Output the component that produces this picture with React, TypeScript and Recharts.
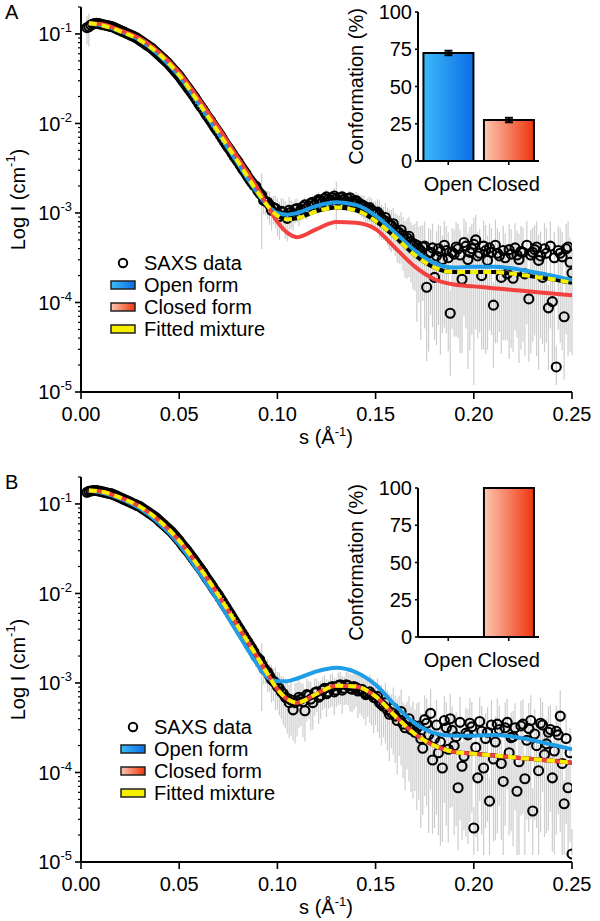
import React from 'react';
import {
  ComposedChart, Scatter, Line, XAxis, YAxis, ErrorBar,
  BarChart, Bar, Cell,
} from 'recharts';

const FONT = '"Liberation Sans", Arial, Helvetica, sans-serif';
const OPEN_BLUE = '#1f9de6';
const CLOSED_RED = '#f2413f';
const FIT_YELLOW = '#f6ef00';
const ERR_GRAY = '#cdcdcd';

// scattering vector of the measured points (1/A), even channels
const sValues = [
  0.004, 0.006, 0.008, 0.010, 0.012, 0.014, 0.016, 0.018, 0.020, 0.022,
  0.024, 0.026, 0.028, 0.030, 0.032, 0.034, 0.036, 0.038, 0.040, 0.042,
  0.044, 0.046, 0.048, 0.050, 0.052, 0.054, 0.056, 0.058, 0.060, 0.062,
  0.064, 0.066, 0.068, 0.070, 0.072, 0.074, 0.076, 0.078, 0.080, 0.082,
  0.084, 0.086, 0.088, 0.090, 0.092, 0.094, 0.096, 0.098, 0.100, 0.102,
  0.104, 0.106, 0.108, 0.110, 0.112, 0.114, 0.116, 0.118, 0.120, 0.122,
  0.124, 0.126, 0.128, 0.130, 0.132, 0.134, 0.136, 0.138, 0.140, 0.142,
  0.144, 0.146, 0.148, 0.150, 0.152, 0.154, 0.156, 0.158, 0.160, 0.162,
  0.164, 0.166, 0.168, 0.170, 0.172, 0.174, 0.176, 0.178, 0.180, 0.182,
  0.184, 0.186, 0.188, 0.190, 0.192, 0.194, 0.196, 0.198, 0.200, 0.202,
  0.204, 0.206, 0.208, 0.210, 0.212, 0.214, 0.216, 0.218, 0.220, 0.222,
  0.224, 0.226, 0.228, 0.230, 0.232, 0.234, 0.236, 0.238, 0.240, 0.242,
  0.244, 0.246, 0.248, 0.250,
];
// odd channels
const sOdd = [
  0.003, 0.005, 0.007, 0.009, 0.011, 0.013, 0.015, 0.017, 0.019, 0.021,
  0.023, 0.025, 0.027, 0.029, 0.031, 0.033, 0.035, 0.037, 0.039, 0.041,
  0.043, 0.045, 0.047, 0.049, 0.051, 0.053, 0.055, 0.057, 0.059, 0.061,
  0.063, 0.065, 0.067, 0.069, 0.071, 0.073, 0.075, 0.077, 0.079, 0.081,
  0.083, 0.085, 0.087, 0.089, 0.091, 0.093, 0.095, 0.097, 0.099, 0.101,
  0.103, 0.105, 0.107, 0.109, 0.111, 0.113, 0.115, 0.117, 0.119, 0.121,
  0.123, 0.125, 0.127, 0.129, 0.131, 0.133, 0.135, 0.137, 0.139, 0.141,
  0.143, 0.145, 0.147, 0.149, 0.151, 0.153, 0.155, 0.157, 0.159, 0.161,
  0.163, 0.165, 0.167, 0.169, 0.171, 0.173, 0.175, 0.177, 0.179, 0.181,
  0.183, 0.185, 0.187, 0.189, 0.191, 0.193, 0.195, 0.197, 0.199, 0.201,
  0.203, 0.205, 0.207, 0.209, 0.211, 0.213, 0.215, 0.217, 0.219, 0.221,
  0.223, 0.225, 0.227, 0.229, 0.231, 0.233, 0.235, 0.237, 0.239, 0.241,
  0.243, 0.245, 0.247, 0.249,
];

// panel A, SAXS data, log10 of I (cm-1)
const logIA = [
  -0.92, -0.89, -0.88, -0.89, -0.90, -0.91, -0.92, -0.94, -0.96, -0.98,
  -1.00, -1.02, -1.04, -1.07, -1.10, -1.13, -1.16, -1.20, -1.24, -1.28,
  -1.32, -1.37, -1.42, -1.47, -1.53, -1.59, -1.65, -1.71, -1.78, -1.84,
  -1.91, -1.97, -2.04, -2.10, -2.17, -2.24, -2.30, -2.37, -2.43, -2.50,
  -2.56, -2.63, -2.69, -2.75, -2.80, -2.87, -2.91, -2.94, -3.00, -2.98,
  -3.03, -2.97, -3.01, -2.95, -2.96, -2.91, -2.92, -2.88, -2.87, -2.86,
  -2.84, -2.85, -2.83, -2.84, -2.83, -2.85, -2.84, -2.87, -2.86, -2.90,
  -2.92, -2.95, -2.97, -3.00, -3.02, -3.08, -3.10, -3.14, -3.18, -3.22,
  -3.25, -3.28, -3.32, -3.35, -3.40, -3.38, -3.83, -3.44, -3.72, -3.40,
  -3.52, -3.42, -4.12, -3.46, -3.40, -3.74, -3.37, -3.44, -3.35, -3.48,
  -3.70, -3.42, -3.39, -4.03, -3.45, -3.72, -3.50, -3.41, -3.73, -3.47,
  -3.43, -3.68, -3.96, -3.44, -3.38, -3.48, -3.40, -4.06, -3.99, -4.72,
  -3.45, -4.16, -3.38, -3.67,
];
const logIAOdd = [
  -0.93, -0.90, -0.885, -0.885, -0.895, -0.905, -0.915, -0.93, -0.95, -0.97,
  -0.99, -1.01, -1.03, -1.055, -1.085, -1.115, -1.145, -1.18, -1.22, -1.26,
  -1.30, -1.345, -1.395, -1.445, -1.50, -1.56, -1.62, -1.68, -1.745, -1.81,
  -1.875, -1.94, -2.005, -2.07, -2.135, -2.205, -2.27, -2.335, -2.40, -2.465,
  -2.53, -2.60, -2.66, -2.70, -2.78, -2.86, -2.88, -2.97, -2.95, -3.04,
  -2.99, -3.06, -2.99, -2.96, -3.00, -2.93, -2.95, -2.89, -2.91, -2.85,
  -2.88, -2.82, -2.86, -2.81, -2.86, -2.82, -2.87, -2.83, -2.89, -2.88,
  -2.91, -2.96, -2.94, -3.01, -2.99, -3.06, -3.05, -3.13, -3.12, -3.21,
  -3.19, -3.30, -3.26, -3.36, -3.36, -3.42, -3.37, -3.45, -3.39, -3.48,
  -3.43, -3.36, -3.50, -3.44, -3.38, -3.47, -3.33, -3.52, -3.40, -3.30,
  -3.45, -3.37, -3.53, -3.44, -3.36, -3.48, -3.42, -3.68, -3.46, -3.39,
  -3.52, -3.44, -3.36, -3.47, -3.41, -3.53, -3.72, -3.45, -3.37, -3.50,
  -3.42, -3.49, -3.40, -3.55,
];
// panel A, relative error (sigma / I)
const relErrA = [
  0.4, 0, 0, 0, 0, 0, 0, 0, 0, 0,
  0, 0, 0, 0, 0, 0, 0, 0, 0, 0,
  0, 0, 0, 0, 0, 0, 0, 0, 0, 0,
  0, 0, 0, 0, 0, 0, 0, 0, 0, 0.08,
  0.1, 0.12, 0.15, 0.2, 0.75, 0.3, 0.4, 0.35, 0.45, 0.4,
  0.45, 0.4, 0.35, 0.3, 0.25, 0.2, 0.25, 0.18, 0.2, 0.18,
  0.2, 0.18, 0.2, 0.55, 0.2, 0.18, 0.2, 0.22, 0.25, 0.25,
  0.3, 0.3, 0.35, 0.35, 0.45, 0.4, 0.45, 0.5, 0.5, 0.55,
  0.6, 0.65, 0.65, 0.7, 0.75, 0.75, 0.85, 0.8, 0.8, 0.86,
  0.85, 0.88, 0.8, 0.88, 0.9, 0.85, 0.88, 0.92, 0.99, 0.88,
  0.85, 0.93, 0.88, 0.8, 0.9, 0.86, 0.88, 0.94, 0.85, 0.88,
  0.92, 0.88, 0.8, 0.9, 0.94, 0.88, 0.93, 0.8, 0.82, 0.7,
  0.9, 0.8, 0.94, 0.88,
];
const relErrAOdd = [
  0.35, 0, 0, 0, 0, 0, 0, 0, 0, 0,
  0, 0, 0, 0, 0, 0, 0, 0, 0, 0,
  0, 0, 0, 0, 0, 0, 0, 0, 0, 0,
  0, 0, 0, 0, 0, 0, 0, 0, 0, 0,
  0.1, 0.12, 0.15, 0.2, 0.25, 0.3, 0.35, 0.4, 0.4, 0.45,
  0.4, 0.45, 0.35, 0.3, 0.3, 0.2, 0.25, 0.18, 0.2, 0.2,
  0.18, 0.2, 0.2, 0.22, 0.2, 0.18, 0.2, 0.2, 0.22, 0.25,
  0.28, 0.3, 0.32, 0.35, 0.4, 0.42, 0.45, 0.48, 0.5, 0.55,
  0.58, 0.62, 0.65, 0.68, 0.86, 0.9, 0.88, 0.92, 0.87, 0.9,
  0.93, 0.88, 0.91, 0.86, 0.9, 0.92, 0.85, 0.94, 0.89, 0.9,
  0.87, 0.93, 0.9, 0.88, 0.92, 0.86, 0.9, 0.82, 0.91, 0.88,
  0.93, 0.9, 0.87, 0.92, 0.89, 0.94, 0.82, 0.9, 0.88, 0.93,
  0.87, 0.91, 0.89, 0.9,
];

// panel B, SAXS data, log10 of I (cm-1)
const logIB = [
  -0.86, -0.85, -0.85, -0.86, -0.87, -0.88, -0.89, -0.91, -0.93, -0.95,
  -0.97, -0.99, -1.01, -1.03, -1.06, -1.09, -1.12, -1.15, -1.19, -1.23,
  -1.27, -1.31, -1.36, -1.41, -1.47, -1.52, -1.58, -1.64, -1.70, -1.76,
  -1.83, -1.89, -1.96, -2.02, -2.09, -2.16, -2.23, -2.30, -2.37, -2.44,
  -2.51, -2.58, -2.65, -2.72, -2.79, -2.86, -2.92, -2.98, -3.04, -3.10,
  -3.16, -3.22, -3.30, -3.20, -3.18, -3.31, -3.14, -3.22, -3.10, -3.14,
  -3.06, -3.10, -3.04, -3.08, -3.02, -3.06, -3.03, -3.07, -3.05, -3.08,
  -3.10, -3.12, -3.13, -3.17, -3.22, -3.26, -3.30, -3.33, -3.37, -3.36,
  -3.46, -3.44, -3.52, -3.55, -3.48, -3.73, -3.45, -3.34, -3.62, -3.78,
  -3.95, -3.50, -3.40, -3.70, -4.17, -3.93, -3.56, -3.45, -4.62, -4.06,
  -3.54, -3.62, -4.32, -3.85, -3.46, -3.90, -3.50, -3.78, -3.60, -4.21,
  -3.48, -4.07, -3.51, -4.43, -3.70, -3.45, -3.80, -3.55, -4.06, -3.54,
  -3.37, -4.35, -4.17, -4.91,
];
const logIBOdd = [
  -0.87, -0.855, -0.85, -0.855, -0.865, -0.875, -0.885, -0.90, -0.92, -0.94,
  -0.96, -0.98, -1.00, -1.02, -1.045, -1.075, -1.105, -1.135, -1.17, -1.21,
  -1.25, -1.29, -1.335, -1.385, -1.44, -1.495, -1.55, -1.61, -1.67, -1.73,
  -1.795, -1.86, -1.925, -1.99, -2.055, -2.125, -2.195, -2.265, -2.335, -2.405,
  -2.475, -2.545, -2.615, -2.70, -2.74, -2.83, -2.88, -2.96, -3.00, -3.06,
  -3.12, -3.17, -3.19, -3.22, -3.16, -3.21, -3.13, -3.18, -3.11, -3.16,
  -3.08, -3.12, -3.05, -3.10, -3.03, -3.08, -3.02, -3.06, -3.04, -3.09,
  -3.07, -3.13, -3.10, -3.16, -3.15, -3.24, -3.22, -3.35, -3.28, -3.42,
  -3.32, -3.50, -3.40, -3.47, -3.50, -3.62, -3.41, -3.58, -3.86, -3.47,
  -3.66, -3.42, -3.74, -3.53, -3.60, -3.44, -3.82, -3.58, -3.49, -3.72,
  -3.43, -3.95, -3.55, -3.47, -3.66, -3.52, -4.10, -3.44, -3.61, -3.50,
  -3.88, -3.46, -3.64, -3.42, -3.57, -3.98, -3.47, -3.68, -3.52, -3.76,
  -3.58, -3.90, -3.62, -3.78,
];
const relErrB = [
  0.15, 0, 0, 0, 0, 0, 0, 0, 0, 0,
  0, 0, 0, 0, 0, 0, 0, 0, 0, 0,
  0, 0, 0, 0, 0, 0, 0, 0, 0, 0,
  0, 0, 0, 0, 0, 0, 0, 0, 0, 0.1,
  0.12, 0.15, 0.2, 0.25, 0.7, 0.3, 0.35, 0.4, 0.45, 0.5,
  0.55, 0.6, 0.55, 0.6, 0.5, 0.55, 0.45, 0.5, 0.4, 0.45,
  0.4, 0.35, 0.4, 0.35, 0.4, 0.35, 0.4, 0.45, 0.4, 0.45,
  0.5, 0.45, 0.55, 0.5, 0.6, 0.55, 0.65, 0.6, 0.7, 0.65,
  0.75, 0.7, 0.8, 0.78, 0.85, 0.82, 0.88, 0.86, 0.9, 0.88,
  0.85, 0.92, 0.9, 0.9, 0.8, 0.85, 0.93, 0.92, 0.7, 0.85,
  0.93, 0.9, 0.8, 0.88, 0.94, 0.86, 0.92, 0.88, 0.94, 0.85,
  0.9, 0.86, 0.93, 0.8, 0.88, 0.94, 0.88, 0.92, 0.85, 0.93,
  0.95, 0.85, 0.88, 0.9,
];
const relErrBOdd = [
  0.15, 0, 0, 0, 0, 0, 0, 0, 0, 0,
  0, 0, 0, 0, 0, 0, 0, 0, 0, 0,
  0, 0, 0, 0, 0, 0, 0, 0, 0, 0,
  0, 0, 0, 0, 0, 0, 0, 0, 0, 0,
  0.12, 0.15, 0.2, 0.25, 0.3, 0.35, 0.4, 0.45, 0.5, 0.5,
  0.55, 0.6, 0.6, 0.65, 0.55, 0.6, 0.5, 0.55, 0.45, 0.5,
  0.4, 0.45, 0.4, 0.45, 0.4, 0.45, 0.4, 0.45, 0.45, 0.5,
  0.5, 0.55, 0.55, 0.6, 0.6, 0.65, 0.65, 0.7, 0.7, 0.75,
  0.75, 0.8, 0.8, 0.85, 0.88, 0.9, 0.86, 0.92, 0.85, 0.9,
  0.93, 0.88, 0.91, 0.86, 0.9, 0.92, 0.85, 0.94, 0.89, 0.9,
  0.87, 0.93, 0.9, 0.88, 0.92, 0.86, 0.9, 0.82, 0.91, 0.88,
  0.93, 0.9, 0.87, 0.92, 0.89, 0.94, 0.82, 0.9, 0.88, 0.93,
  0.87, 0.91, 0.89, 0.9,
];

// model curves (log10 I) on a coarser s grid
const curveS = [
  0.004, 0.01, 0.02, 0.03, 0.04, 0.05, 0.06, 0.07, 0.08, 0.09,
  0.095, 0.10, 0.105, 0.11, 0.12, 0.13, 0.14, 0.15, 0.16, 0.17,
  0.18, 0.19, 0.20, 0.21, 0.22, 0.23, 0.24, 0.25,
];
const openA = [
  -0.88, -0.90, -0.97, -1.07, -1.24, -1.47, -1.78, -2.11, -2.45, -2.78,
  -2.92, -3.00, -3.02, -3.00, -2.92, -2.88, -2.91, -3.03, -3.22, -3.42,
  -3.56, -3.61, -3.60, -3.60, -3.62, -3.66, -3.70, -3.75,
];
const closedA = [
  -0.88, -0.89, -0.96, -1.05, -1.21, -1.43, -1.73, -2.05, -2.39, -2.73,
  -2.92, -3.10, -3.22, -3.27, -3.18, -3.10, -3.11, -3.18, -3.39, -3.60,
  -3.74, -3.80, -3.82, -3.84, -3.86, -3.88, -3.90, -3.92,
];
const fitA = [
  -0.88, -0.90, -0.97, -1.07, -1.23, -1.46, -1.77, -2.10, -2.43, -2.77,
  -2.92, -3.03, -3.07, -3.06, -2.98, -2.94, -2.97, -3.09, -3.27, -3.47,
  -3.61, -3.66, -3.66, -3.66, -3.68, -3.71, -3.74, -3.78,
];
const openB = [
  -0.85, -0.87, -0.94, -1.05, -1.22, -1.45, -1.76, -2.09, -2.45, -2.80,
  -2.94, -2.98, -2.98, -2.95, -2.87, -2.83, -2.88, -3.02, -3.25, -3.45,
  -3.56, -3.59, -3.59, -3.58, -3.60, -3.64, -3.69, -3.74,
];
const closedB = [
  -0.85, -0.86, -0.93, -1.03, -1.19, -1.41, -1.70, -2.02, -2.37, -2.72,
  -2.90, -3.07, -3.18, -3.22, -3.12, -3.03, -3.04, -3.15, -3.37, -3.57,
  -3.70, -3.77, -3.79, -3.81, -3.83, -3.85, -3.87, -3.89,
];
const fitB = [
  -0.85, -0.86, -0.93, -1.03, -1.19, -1.41, -1.70, -2.02, -2.37, -2.72,
  -2.90, -3.07, -3.18, -3.22, -3.12, -3.03, -3.04, -3.15, -3.37, -3.57,
  -3.70, -3.77, -3.79, -3.81, -3.83, -3.85, -3.87, -3.89,
];

// inset bars: conformation fractions (%)
const conformations = ['Open', 'Closed'];
const fractionA = [72.5, 27.5];
const fractionErrA = [1.5, 1.5];
const fractionB = [0, 100];
const fractionErrB = [0, 0];

const sTicks = [0, 0.05, 0.1, 0.15, 0.2, 0.25];
const majorTicks = [1e-5, 1e-4, 1e-3, 1e-2, 1e-1];
const minorSteps = [2, 3, 4, 5, 6, 7, 8, 9];
const logTicks = majorTicks
  .flatMap((d) => [d, ...minorSteps.map((m) => m * d)])
  .filter((v) => v <= 0.2000001);
const pctTicks = [0, 25, 50, 75, 100];

const toPoints = (s: number[], logI: number[], rel: number[]) =>
  s.map((sv, i) => {
    const I = Math.pow(10, logI[i]);
    const sig = rel[i] * I;
    const lo = Math.max(I - sig, 1.2e-5);
    return { s: sv, I, err: [I - lo, sig] };
  });

const toCurves = (open: number[], closed: number[], fit: number[]) =>
  curveS.map((s, i) => ({
    s,
    open: Math.pow(10, open[i]),
    closed: Math.pow(10, closed[i]),
    fit: Math.pow(10, fit[i]),
  }));

const toBars = (vals: number[], errs: number[]) =>
  conformations.map((name, i) => ({ name, value: vals[i], err: errs[i] }));

// draws the tick mark itself: long for decades, short for 2..9
const LogTick = (props: any) => {
  const { x, y, payload } = props;
  const lg = Math.log10(payload.value);
  const exp = Math.round(lg);
  const major = Math.abs(lg - exp) < 1e-6;
  return (
    <g>
      <line x1={x - (major ? 6 : 3)} x2={x} y1={y} y2={y} stroke="#000" strokeWidth={major ? 1.6 : 1.2} />
      {major && (
        <text x={x - 9} y={y} textAnchor="end" fontFamily={FONT} fontSize={20} fill="#000" dy="0.36em">
          <tspan>10</tspan>
          <tspan dy={-9} fontSize={13}>{exp}</tspan>
        </text>
      )}
    </g>
  );
};

const Ring = (props: any) => (
  <circle cx={props.cx} cy={props.cy} r={4.5} fill="none" stroke="#000" strokeWidth={2.1} />
);

const axisStyle = { stroke: '#000', strokeWidth: 2 };
const tickStyle = { stroke: '#000', strokeWidth: 1.6 };

type PanelProps = {
  id: string;
  top: number;
  letter: string;
  points: { s: number; I: number; err: number[] }[];
  curves: { s: number; open: number; closed: number; fit: number }[];
  bars: { name: string; value: number; err: number }[];
  legendX: number;
  legendY: number;
  insetTop: number;
};

const Panel = ({ id, top, letter, points, curves, bars, legendX, legendY, insetTop }: PanelProps) => {
  const legendRows = [
    { label: 'Open form', fill: `url(#${id}-lg-open)` },
    { label: 'Closed form', fill: `url(#${id}-lg-closed)` },
    { label: 'Fitted mixture', fill: FIT_YELLOW },
  ];
  return (
    <div style={{ position: 'absolute', left: 0, top, width: 600, height: 460 }}>
      <ComposedChart width={600} height={460} margin={{ top: 7, right: 28, bottom: 0, left: 0 }}>
        <XAxis
          dataKey="s" type="number" domain={[0, 0.25]} ticks={sTicks} allowDataOverflow interval={0}
          height={68} tickSize={7} tickMargin={8}
          axisLine={axisStyle} tickLine={tickStyle}
          tick={{ fill: '#000', fontSize: 20, fontFamily: FONT }}
          tickFormatter={(v: number) => v.toFixed(2)}
        />
        <YAxis
          yAxisId="log" scale="log" type="number" domain={[1e-5, 0.2]} allowDataOverflow
          ticks={logTicks} interval={0} width={81} tickSize={0} tickMargin={0}
          axisLine={axisStyle} tickLine={false} tick={<LogTick />}
        />
        <Scatter
          yAxisId="log" data={points} dataKey="I" shape={<Ring />}
          isAnimationActive={false} zIndex={100}
        >
          <ErrorBar dataKey="err" direction="y" width={0} stroke={ERR_GRAY} strokeWidth={1.2} zIndex={90} />
        </Scatter>
        <Line yAxisId="log" data={curves} dataKey="fit" type="monotone" stroke="#000" strokeWidth={4}
          dot={false} activeDot={false} isAnimationActive={false} zIndex={410} legendType="none" />
        <Line yAxisId="log" data={curves} dataKey="open" type="monotone" stroke={OPEN_BLUE} strokeWidth={4}
          dot={false} activeDot={false} isAnimationActive={false} zIndex={420} />
        <Line yAxisId="log" data={curves} dataKey="closed" type="monotone" stroke={CLOSED_RED} strokeWidth={4}
          dot={false} activeDot={false} isAnimationActive={false} zIndex={430} />
        <Line yAxisId="log" data={curves} dataKey="fit" type="monotone" stroke={FIT_YELLOW} strokeWidth={4}
          strokeDasharray="8 5" dot={false} activeDot={false} isAnimationActive={false} zIndex={440} />
      </ComposedChart>

      <div style={{ position: 'absolute', left: 340, top: insetTop }}>
        <BarChart width={220} height={200} data={bars} margin={{ top: 12, right: 21, bottom: 0, left: 0 }}
          barCategoryGap="9%">
          <defs>
            <linearGradient id={`${id}-bar-0`} x1="0" y1="0" x2="1" y2="0">
              <stop offset="0%" stopColor="#3cbaf9" />
              <stop offset="100%" stopColor="#0b6ee6" />
            </linearGradient>
            <linearGradient id={`${id}-bar-1`} x1="0" y1="0" x2="1" y2="0">
              <stop offset="0%" stopColor="#fcc8b2" />
              <stop offset="100%" stopColor="#f0340c" />
            </linearGradient>
          </defs>
          <XAxis dataKey="name" height={39} tickSize={4} tickMargin={12} interval={0}
            axisLine={axisStyle} tickLine={tickStyle}
            tick={{ fill: '#000', fontSize: 20, fontFamily: FONT }} />
          <YAxis domain={[0, 100]} ticks={pctTicks} interval={0} width={78} tickSize={3} tickMargin={3}
            axisLine={axisStyle} tickLine={tickStyle}
            tick={{ fill: '#000', fontSize: 20, fontFamily: FONT }} />
          <Bar dataKey="value" stroke="#000" strokeWidth={2} isAnimationActive={false}>
            {bars.map((_, i) => (
              <Cell key={`c-${i}`} fill={`url(#${id}-bar-${i})`} />
            ))}
            <ErrorBar dataKey="err" direction="y" width={4} stroke="#000" strokeWidth={2} />
          </Bar>
        </BarChart>
      </div>

      <svg width={600} height={460} style={{ position: 'absolute', left: 0, top: 0, pointerEvents: 'none' }}
        fontFamily={FONT}>
        <defs>
          <linearGradient id={`${id}-lg-open`} x1="0" y1="0" x2="1" y2="0">
            <stop offset="0%" stopColor="#3cbaf9" />
            <stop offset="100%" stopColor="#0b6ee6" />
          </linearGradient>
          <linearGradient id={`${id}-lg-closed`} x1="0" y1="0" x2="1" y2="0">
            <stop offset="0%" stopColor="#fcc8b2" />
            <stop offset="100%" stopColor="#f0340c" />
          </linearGradient>
        </defs>
        <text x={5} y={19} fontSize={20} fill="#000">{letter}</text>
        <text x={18} y={199.5} fontSize={20} fill="#000" textAnchor="middle" dominantBaseline="central"
          transform="rotate(-90, 18, 199.5)">
          Log I (cm<tspan dy={-8} fontSize={13}>-1</tspan><tspan dy={8}>)</tspan>
        </text>
        <text x={326} y={444} fontSize={20} fill="#000" textAnchor="middle">
          s (Å<tspan dy={-8} fontSize={13}>-1</tspan><tspan dy={8}>)</tspan>
        </text>
        <text x={356} y={insetTop + 86.5} fontSize={20} fill="#000" textAnchor="middle" dominantBaseline="central"
          transform={`rotate(-90, 356, ${insetTop + 86.5})`}>
          Conformation (%)
        </text>
        <circle cx={legendX + 12} cy={legendY} r={4.2} fill="#fff" stroke="#000" strokeWidth={2} />
        <text x={legendX + 33} y={legendY} fontSize={20} fill="#000" dominantBaseline="central">SAXS data</text>
        {legendRows.map((r, i) => (
          <g key={r.label}>
            <rect x={legendX} y={legendY + 22 * (i + 1) - 4} width={24} height={8} fill={r.fill}
              stroke="#222" strokeWidth={1.5} />
            <text x={legendX + 33} y={legendY + 22 * (i + 1)} fontSize={20} fill="#000"
              dominantBaseline="central">{r.label}</text>
          </g>
        ))}
      </svg>
    </div>
  );
};

export default function App() {
  const pointsA = toPoints(sValues, logIA, relErrA).concat(toPoints(sOdd, logIAOdd, relErrAOdd));
  const pointsB = toPoints(sValues, logIB, relErrB).concat(toPoints(sOdd, logIBOdd, relErrBOdd));
  return (
    <div style={{ position: 'absolute', left: 0, top: 0, width: 600, height: 921, background: '#fff' }}>
      <Panel id="pa" top={0} letter="A" points={pointsA}
        curves={toCurves(openA, closedA, fitA)} bars={toBars(fractionA, fractionErrA)}
        legendX={111} legendY={263} insetTop={0} />
      <Panel id="pb" top={470} letter="B" points={pointsB}
        curves={toCurves(openB, closedB, fitB)} bars={toBars(fractionB, fractionErrB)}
        legendX={121} legendY={257} insetTop={6} />
    </div>
  );
}
